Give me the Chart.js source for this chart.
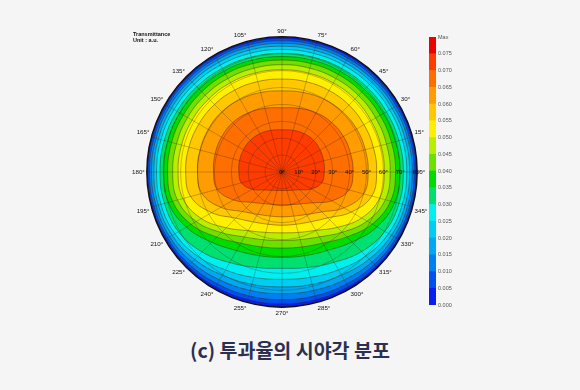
<!DOCTYPE html>
<html>
<head>
<meta charset="utf-8">
<script src="https://cdn.jsdelivr.net/npm/chart.js@4.4.1/dist/chart.umd.min.js"></script>
<style>
  body { margin: 0; width: 580px; height: 390px; background: #f5f5f5; position: relative; overflow: hidden; }
  #polarBox { position: absolute; left: 130px; top: 22px; width: 300px; height: 300px; }
  #barBox { position: absolute; left: 429px; top: 33px; width: 29px; height: 276px; }
  .caption { position: absolute; left: 0; top: 335px; width: 580px; text-align: center;
             font-family: 'Noto Sans CJK KR', sans-serif; font-weight: bold; font-size: 19.5px; color: #2b3050; }
</style>
</head>
<body>
<div id="polarBox"><canvas id="polarChart"></canvas></div>
<div id="barBox"><canvas id="barChart"></canvas></div>
<div class="caption">(c) 투과율의 시야각 분포</div>
<script>
document.addEventListener('DOMContentLoaded', () => {
    // azimuth labels, clockwise from the top
    const azimuths = ['90°', '75°', '60°', '45°', '30°', '15°', '0°', '345°', '330°', '315°', '300°', '285°',
                      '270°', '255°', '240°', '225°', '210°', '195°', '180°', '165°', '150°', '135°', '120°', '105°'];
    const ringTicks = [0, 10, 20, 30, 40, 50, 60, 70, 80];

    // colour bands, 0.000-0.005 up to 0.075-Max
    const bandColors = ['#0a1ef0', '#0050f0', '#0080f0', '#00a8f0', '#00cdf2', '#00f0f0', '#00e070', '#00dc00',
                        '#6ee000', '#b8ee00', '#fff000', '#ffc800', '#ff9c00', '#ff6e00', '#ff3c00', '#ee0000'];
    const barTicks = [0, 0.005, 0.01, 0.015, 0.02, 0.025, 0.03, 0.035, 0.04, 0.045, 0.05, 0.055, 0.06, 0.065, 0.07, 0.075, 0.08];

    // contour levels and their polar radius (deg) at each azimuth above
    const levels = [0.070, 0.065, 0.060, 0.055, 0.050, 0.045, 0.040, 0.035, 0.030, 0.025, 0.020, 0.015, 0.010, 0.005];
    const r070 = [25, 25.5, 26.2, 26.5, 26, 25.5, 25, 24.4, 20.1, 14.9, 12.4, 11.3, 11, 11.3, 12.5, 15.1, 20.4, 24.9, 25.5, 26, 26.3, 26.5, 26.2, 25.5];
    const r065 = [38, 39, 40.5, 41.5, 42, 42, 42, 41.1, 34.1, 25.8, 21.8, 20, 19.5, 19.9, 21.6, 25.4, 33.1, 39.7, 40.5, 41, 41.3, 41.3, 40.3, 39];
    const r060 = [48, 48.7, 49.7, 50.5, 51, 51, 51, 50, 42.4, 33.4, 29, 27, 26.5, 27, 28.9, 33.1, 41.8, 49.1, 50, 50.2, 50.4, 50.4, 49.6, 48.7];
    const r055 = [55, 55.3, 55.7, 56, 56, 56, 56, 55, 47.4, 38.4, 34, 32, 31.5, 32, 34.1, 38.6, 48.1, 56, 57, 57, 56.8, 56.5, 56, 55.4];
    const r050 = [60.5, 60.6, 60.8, 61, 60.8, 60.6, 60.5, 59.8, 54.4, 46.3, 39.9, 37, 36, 37, 40.1, 46.7, 55.1, 60.7, 61.5, 61.5, 61.4, 61.2, 61, 60.7];
    const r045 = [63.5, 63.6, 63.8, 64, 64, 64, 64, 63.3, 58.1, 50.4, 44.3, 41.4, 40.5, 41.5, 44.4, 50.7, 58.6, 64, 64.7, 64.6, 64.5, 64.2, 63.9, 63.6];
    const r040 = [66.2, 66.4, 66.6, 66.8, 67, 67.1, 67.2, 66.5, 61.6, 54.3, 48.5, 45.9, 45, 45.9, 48.6, 54.5, 62, 67, 67.7, 67.6, 67.4, 67.1, 66.8, 66.4];
    const r035 = [68.3, 68.5, 68.8, 69, 69.3, 69.5, 69.7, 69.1, 64.9, 58.6, 53.6, 51.3, 50.5, 51.3, 53.7, 58.8, 65.3, 69.6, 70.2, 70.1, 69.8, 69.3, 68.9, 68.5];
    const r030 = [70.2, 70.4, 70.7, 71, 71.3, 71.6, 71.8, 71.7, 70.3, 66.6, 61.7, 58.5, 57, 58.5, 61.9, 66.9, 70.7, 72, 72.2, 72.1, 71.8, 71.3, 70.8, 70.4];
    const r025 = [72.5, 72.6, 72.9, 73.2, 73.5, 73.7, 73.8, 73.7, 72.8, 70.2, 66.8, 64.5, 63.5, 64.6, 66.9, 70.5, 73.1, 74.1, 74.2, 74.1, 73.8, 73.4, 73, 72.7];
    const r020 = [74.4, 74.5, 74.7, 75, 75.2, 75.4, 75.5, 75.4, 74.8, 72.9, 70.4, 68.8, 68, 68.8, 70.5, 73.1, 75, 75.7, 75.8, 75.7, 75.5, 75.2, 74.9, 74.6];
    const r015 = [76.1, 76.2, 76.3, 76.5, 76.7, 76.9, 77, 77, 76.5, 75.3, 73.6, 72.5, 72, 72.5, 73.7, 75.4, 76.7, 77.1, 77.2, 77.1, 77, 76.7, 76.5, 76.3];
    const r010 = [77.6, 77.6, 77.7, 77.9, 78, 78.1, 78.2, 78.2, 77.9, 77.3, 76.4, 75.8, 75.5, 75.8, 76.4, 77.4, 78.1, 78.4, 78.4, 78.3, 78.2, 78, 77.8, 77.7];
    const r005 = [78.9, 78.9, 79, 79, 79.1, 79.2, 79.2, 79.2, 79.1, 78.8, 78.4, 78.1, 78, 78.1, 78.4, 78.8, 79.1, 79.3, 79.3, 79.3, 79.2, 79.1, 79, 78.9];
    const contours = [r070, r065, r060, r055, r050, r045, r040, r035, r030, r025, r020, r015, r010, r005];

    const font = "'Liberation Sans', Arial, sans-serif";
    const gridColor = 'rgba(45, 30, 15, 0.45)';

    // the region inside a contour takes the colour of the band just above its level
    const bandFor = (level) => bandColors[Math.round(level / 0.005)];

    // outer disc in the lowest band colour, ring labels and the unit note
    const polarExtras = {
        id: 'polarExtras',
        beforeDatasetsDraw(chart) {
            const s = chart.scales.r;
            const ctx = chart.ctx;
            ctx.save();
            ctx.beginPath();
            ctx.arc(s.xCenter, s.yCenter, s.getDistanceFromCenterForValue(s.max), 0, Math.PI * 2);
            ctx.fillStyle = bandColors[0];
            ctx.fill();
            ctx.restore();
        },
        afterDraw(chart) {
            const s = chart.scales.r;
            const ctx = chart.ctx;
            const east = azimuths.indexOf('0°');
            ctx.save();
            ctx.fillStyle = '#111';
            ctx.font = `6px ${font}`;
            ctx.textAlign = 'center';
            ctx.textBaseline = 'middle';
            ringTicks.forEach(v => {
                const p = s.getPointPositionForValue(east, v);
                ctx.fillText(v + '°', p.x, p.y);
            });
            ctx.textAlign = 'left';
            ctx.textBaseline = 'top';
            ctx.font = `bold 5.5px ${font}`;
            ctx.fillText('Transmittance', 3, 10);
            ctx.fillText('Unit : a.u.', 3, 16);
            ctx.restore();
        }
    };

    new Chart(document.getElementById('polarChart'), {
        type: 'radar',
        data: {
            labels: azimuths,
            datasets: contours.map((vals, i) => ({
                label: levels[i].toFixed(3),
                data: vals,
                fill: true,
                backgroundColor: bandFor(levels[i]),
                borderColor: 'rgba(60, 30, 0, 0.6)',
                borderWidth: 0.7,
                tension: 0.4,
                pointRadius: 0,
            }))
        },
        options: {
            responsive: true,
            maintainAspectRatio: false,
            animation: false,
            plugins: { legend: { display: false }, tooltip: { enabled: false } },
            scales: {
                r: {
                    min: 0,
                    max: 80,
                    ticks: { stepSize: 10, display: false },
                    grid: {
                        circular: true,
                        z: 1,
                        color: (ctx) => ctx.tick && ctx.tick.value === 80 ? '#111' : gridColor,
                        lineWidth: (ctx) => ctx.tick && ctx.tick.value === 80 ? 1.4 : 0.6,
                    },
                    angleLines: { color: gridColor, lineWidth: 0.6 },
                    pointLabels: { font: { size: 6.2, family: font }, color: '#111', padding: 2 },
                }
            }
        },
        plugins: [polarExtras]
    });

    // ===== Colour bar =====
    const barLabels = {
        id: 'barLabels',
        afterDraw(chart) {
            const y = chart.scales.y;
            const ctx = chart.ctx;
            ctx.save();
            ctx.fillStyle = '#555';
            ctx.font = `5.5px ${font}`;
            ctx.textAlign = 'left';
            ctx.textBaseline = 'middle';
            barTicks.forEach(v => {
                const txt = v > 0.0795 ? 'Max' : v.toFixed(3);
                ctx.fillText(txt, chart.chartArea.right + 2, y.getPixelForValue(v));
            });
            ctx.restore();
        }
    };

    new Chart(document.getElementById('barChart'), {
        type: 'bar',
        data: {
            labels: [''],
            datasets: bandColors.map(c => ({
                data: [0.005],
                backgroundColor: c,
                borderWidth: 0,
                barPercentage: 1,
                categoryPercentage: 1,
            }))
        },
        options: {
            responsive: true,
            maintainAspectRatio: false,
            animation: false,
            layout: { padding: { top: 4, bottom: 4, left: 0, right: 22 } },
            plugins: { legend: { display: false }, tooltip: { enabled: false } },
            scales: {
                x: { stacked: true, display: false },
                y: { stacked: true, display: false, min: 0, max: 0.08 }
            }
        },
        plugins: [barLabels]
    });
});
</script>
</body>
</html>
